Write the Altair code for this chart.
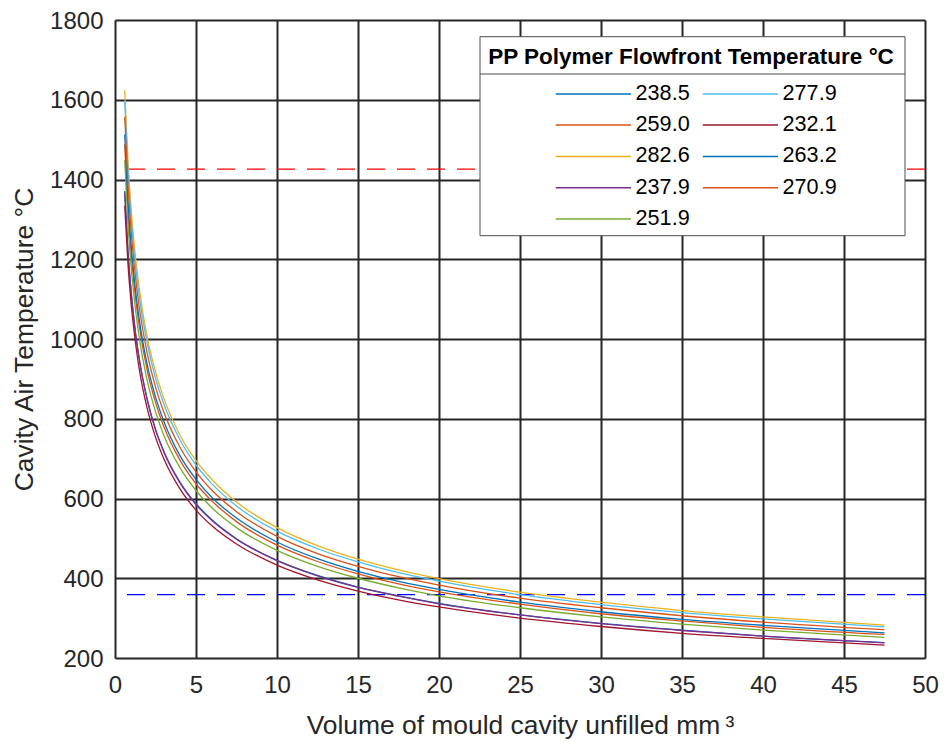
import altair as alt
import pandas as pd

# Unfilled cavity volume (mm^3) at which the curves were read
volume_mm3 = [0.6, 0.8, 1.0, 1.25, 1.5, 2, 2.5, 3, 4, 5, 6, 7.5, 10, 12.5, 15, 17.5, 20, 25, 30, 35, 40, 47.5]

# Cavity air temperature (°C) per flow-front temperature series
t_238_5 = [1371, 1222, 1117, 1022, 950, 847, 774, 720, 642, 587, 546, 499, 445, 407, 378, 356, 337, 308, 287, 270, 255, 238.5]
t_259_0 = [1488, 1327, 1213, 1110, 1032, 919, 841, 782, 697, 637, 593, 542, 483, 442, 411, 386, 366, 335, 311, 293, 277, 259.0]
t_282_6 = [1624, 1447, 1324, 1211, 1126, 1003, 918, 853, 760, 695, 647, 591, 527, 482, 448, 421, 399, 365, 340, 319, 303, 282.6]
t_237_9 = [1367, 1219, 1115, 1019, 948, 845, 772, 718, 640, 585, 544, 498, 444, 406, 377, 355, 336, 308, 286, 269, 255, 237.9]
t_251_9 = [1448, 1290, 1180, 1079, 1003, 894, 818, 760, 678, 620, 576, 527, 470, 430, 400, 376, 356, 326, 303, 285, 270, 251.9]
t_277_9 = [1597, 1423, 1302, 1191, 1107, 987, 902, 839, 748, 684, 636, 581, 518, 474, 441, 414, 393, 359, 334, 314, 298, 277.9]
t_232_1 = [1334, 1189, 1087, 995, 924, 824, 754, 701, 625, 571, 531, 486, 433, 396, 368, 346, 328, 300, 279, 262, 249, 232.1]
t_263_2 = [1513, 1348, 1233, 1128, 1048, 934, 855, 795, 708, 648, 602, 551, 491, 449, 417, 392, 372, 340, 316, 297, 282, 263.2]
t_270_9 = [1557, 1388, 1269, 1161, 1079, 962, 880, 818, 729, 667, 620, 567, 505, 462, 430, 404, 383, 350, 326, 306, 290, 270.9]

series_labels = ["238.5", "259.0", "282.6", "237.9", "251.9", "277.9", "232.1", "263.2", "270.9"]
series_values = [t_238_5, t_259_0, t_282_6, t_237_9, t_251_9, t_277_9, t_232_1, t_263_2, t_270_9]
series_colors = ["#0072BD", "#D95319", "#EDB120", "#7E2F8E", "#77AC30",
                 "#4DBEEE", "#A2142F", "#0072BD", "#D95319"]

# Horizontal dashed reference levels
ref_levels = [1426, 359]
ref_colors = ["#FF0000", "#0000FF"]

x_ticks = [0, 5, 10, 15, 20, 25, 30, 35, 40, 45, 50]
y_ticks = [200, 400, 600, 800, 1000, 1200, 1400, 1600, 1800]

rows = []
for lab, vals in zip(series_labels, series_values):
    for i, (xv, yv) in enumerate(zip(volume_mm3, vals)):
        rows.append({"volume": xv, "temp": yv, "series": lab, "idx": i})
df = pd.DataFrame(rows)
ref_df = pd.DataFrame({"level": ref_levels, "color": ref_colors})
frame_df = pd.DataFrame({"box": ["legend"]})

FONT = "Liberation Sans"
INK = "#262626"
BOX = "#4d4d4d"

x_scale = alt.Scale(domain=[0, 50], nice=False, zero=False)
y_scale = alt.Scale(domain=[200, 1800], nice=False, zero=False)

x_axis = alt.Axis(
    title="Volume of mould cavity unfilled mm\u2009³", values=x_ticks, format="d",
    labelFont=FONT, labelFontSize=24, labelColor=INK, labelPadding=15,
    labelFlush=False, labelOverlap=False, ticks=False, tickSize=0, domain=False,
    grid=True, gridColor=INK, gridWidth=2,
    titleFont=FONT, titleFontSize=26.4, titleFontWeight="normal", titleColor=INK,
    titlePadding=15,
)
y_axis = alt.Axis(
    title="Cavity Air Temperature °C", values=y_ticks, format="d",
    labelFont=FONT, labelFontSize=24, labelColor=INK, labelPadding=12,
    labelOffset=1,
    labelFlush=False, labelOverlap=False, ticks=False, tickSize=0, domain=False,
    grid=True, gridColor=INK, gridWidth=2,
    titleFont=FONT, titleFontSize=26.4, titleFontWeight="normal", titleColor=INK,
    titlePadding=11,
)

legend = alt.Legend(
    title="PP Polymer Flowfront Temperature °C",
    orient="none", legendX=373, legendY=25.5, direction="vertical", columns=2,
    padding=0,
    titleFont=FONT, titleFontSize=22.5, titleFontWeight="bold", titleColor="black",
    titleAnchor="middle", titleLimit=1000, titlePadding=15,
    labelFont=FONT, labelFontSize=21.6, labelColor="black", labelLimit=300,
    symbolType="M0,0H9.4", symbolSize=256, symbolStrokeWidth=1.5,
    symbolOffset=0, labelOffset=69, rowPadding=8.3, columnPadding=2,
)

lines = alt.Chart(df).mark_line(strokeWidth=1.3, interpolate="monotone").encode(
    x=alt.X("volume:Q", scale=x_scale, axis=x_axis),
    y=alt.Y("temp:Q", scale=y_scale, axis=y_axis),
    color=alt.Color("series:N", sort=series_labels,
                    scale=alt.Scale(domain=series_labels, range=series_colors),
                    legend=legend),
    order=alt.Order("idx:Q"),
)

refs = alt.Chart(ref_df).mark_rule(strokeWidth=1.3, strokeDash=[18, 12]).encode(
    y=alt.Y("level:Q", scale=y_scale),
    stroke=alt.Stroke("color:N", scale=None),
)

# Legend frame (white box with a rule under the legend title)
legend_box = alt.Chart(frame_df).mark_rect(fill="white", stroke=BOX, strokeWidth=1).encode(
    x=alt.value(365), x2=alt.value(790), y=alt.value(16.7), y2=alt.value(215.7),
)
legend_sep = alt.Chart(frame_df).mark_rule(stroke=BOX, strokeWidth=1).encode(
    x=alt.value(365), x2=alt.value(790), y=alt.value(54),
)

chart = alt.layer(refs, lines, legend_box, legend_sep).properties(
    width=810, height=638,
    padding={"left": 107, "top": 12, "right": 14, "bottom": 82},
    autosize=alt.AutoSizeParams(type="none"),
).configure_view(stroke=INK, strokeWidth=2).configure(background="white")

chart.save("out.html", embed_options={"renderer": "svg", "actions": False})
